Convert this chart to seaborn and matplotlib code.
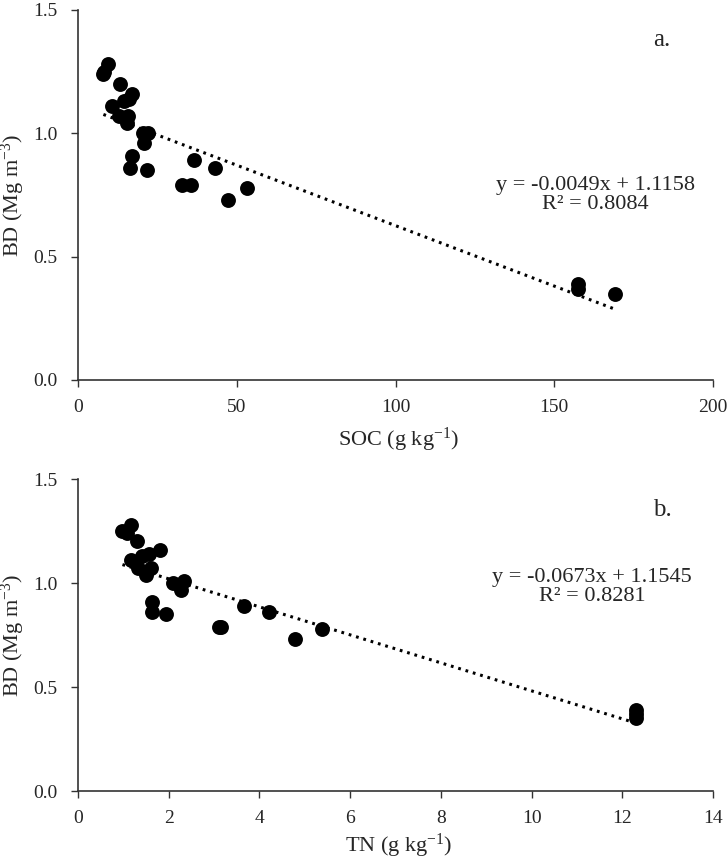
import matplotlib
matplotlib.use("Agg")
import matplotlib.pyplot as plt
import seaborn as sns
import numpy as np
import pandas as pd

# ---- data ----
soc = [9.3, 8.2, 8.0, 13.2, 17.0, 16.1, 14.5, 10.8, 13.0, 15.6, 15.3, 22.1, 20.5, 20.7,
       16.9, 36.5, 43.3, 16.3, 21.8, 32.9, 35.7, 53.2, 47.4, 157.5, 157.5, 169.0]
bd_soc = [1.28, 1.25, 1.24, 1.20, 1.16, 1.14, 1.13, 1.11, 1.07, 1.07, 1.04, 1.00, 1.00, 0.96,
          0.91, 0.89, 0.86, 0.86, 0.85, 0.79, 0.79, 0.78, 0.73, 0.39, 0.37, 0.35]
tn = [1.17, 0.98, 1.07, 1.31, 1.80, 1.57, 1.41, 1.16, 1.33, 1.60, 1.50, 2.09, 2.34, 2.27,
      1.64, 3.66, 4.21, 1.64, 1.95, 3.10, 3.15, 5.38, 4.79, 12.3, 12.3, 12.3]
bd_tn = [1.28, 1.25, 1.24, 1.20, 1.16, 1.14, 1.13, 1.11, 1.07, 1.07, 1.04, 1.00, 1.01, 0.965,
         0.91, 0.89, 0.86, 0.86, 0.85, 0.79, 0.79, 0.78, 0.73, 0.39, 0.37, 0.35]
fit_soc = (-0.0049, 1.1158)
fit_tn = (-0.0673, 1.1545)
eq_soc = ["y = -0.0049x + 1.1158", "R² = 0.8084"]
eq_tn = ["y = -0.0673x + 1.1545", "R² = 0.8281"]
soc_ticks = [0, 50, 100, 150, 200]
tn_ticks = [0, 2, 4, 6, 8, 10, 12, 14]
bd_ticks = [0.0, 0.5, 1.0, 1.5]

sns.set_style("white")
plt.rcParams["font.family"] = ["Liberation Serif", "DejaVu Serif"]
plt.rcParams["axes.unicode_minus"] = False
plt.rcParams["mathtext.fontset"] = "custom"
plt.rcParams["mathtext.rm"] = "Liberation Serif"
plt.rcParams["mathtext.it"] = "Liberation Serif:italic"
plt.rcParams["mathtext.default"] = "regular"

fig = plt.figure(figsize=(7.28, 8.61), dpi=100)
ax1 = fig.add_axes([78/728, 1-380/861, 635/728, 370/861])
ax2 = fig.add_axes([78/728, 1-791/861, 635/728, 312/861])

def panel(ax, x, y, fit, eq, xticks, xlabel, tag, tagpos, eqpos, xlab_y):
    df = pd.DataFrame({"x": x, "y": y})
    sns.scatterplot(data=df, x="x", y="y", ax=ax, color="black", s=115,
                    edgecolor="black", linewidth=0, zorder=3, clip_on=False)
    xs = np.array([min(x), max(x)])
    ax.plot(xs, fit[0]*xs + fit[1], color="black", lw=2.2,
            linestyle=(0, (0.9, 1.6)), zorder=2)
    ax.set_xlim(xticks[0], xticks[-1])
    ax.set_ylim(0, 1.5)
    ax.set_xticks(xticks)
    ax.set_yticks(bd_ticks)
    ax.set_yticklabels([f"{v:.1f}" for v in bd_ticks])
    ax.set_xlabel(xlabel, fontsize=16)
    ax.set_ylabel(r"BD (Mg m$^{-3}$)", fontsize=16)
    ax.xaxis.set_label_coords(0.505, xlab_y)
    ax.yaxis.set_label_coords(-0.08, 0.5)
    for side in ["top", "right"]:
        ax.spines[side].set_visible(False)
    for side in ["left", "bottom"]:
        ax.spines[side].set_color("#333333")
        ax.spines[side].set_linewidth(1.2)
    ax.tick_params(axis="both", which="major", labelsize=14, direction="out",
                   length=5, width=1, color="#333333", left=True, bottom=True)
    ax.tick_params(axis="x", pad=9)
    ax.tick_params(axis="y", pad=10)
    ax.text(tagpos[0], tagpos[1], tag, transform=ax.transAxes, fontsize=18,
            ha="left", va="center")
    ax.text(eqpos[0], eqpos[1], eq[0] + "\n" + eq[1], transform=ax.transAxes,
            fontsize=16, ha="center", va="center", linespacing=1.0)

panel(ax1, soc, bd_soc, fit_soc, eq_soc, soc_ticks, r"SOC (g kg$^{-1}$)", "a.",
      (0.905, 0.919), (0.815, 0.50), -0.125)
panel(ax2, tn, bd_tn, fit_tn, eq_tn, tn_ticks, r"TN (g kg$^{-1}$)", "b.",
      (0.905, 0.90), (0.81, 0.655), -0.13)

fig.savefig("out.png", dpi=100)
